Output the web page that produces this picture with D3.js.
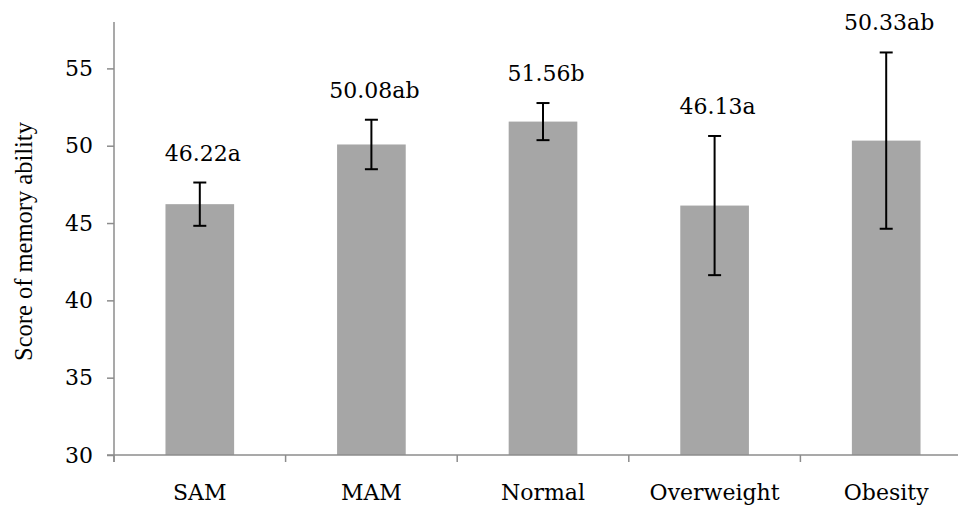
<!DOCTYPE html>
<html>
<head>
<meta charset="utf-8">
<script src="https://cdn.jsdelivr.net/npm/d3@7"></script>
<style>
    body { margin: 0; background: #ffffff; }
    svg { display: block; }
</style>
</head>
<body>
<div id="chart_div"></div>
<script>
var categories = ["SAM", "MAM", "Normal", "Overweight", "Obesity"];
var means = [46.22, 50.08, 51.56, 46.13, 50.33];
var errors = [1.4, 1.6, 1.2, 4.5, 5.7];
var letters = ["a", "ab", "b", "a", "ab"];
var y_ticks = [30, 35, 40, 45, 50, 55];

var chart_width = 958;
var chart_height = 506;

var plot_left = 114;
var plot_right = 972;
var plot_top = 22;
var plot_bottom = 455;

var bar_colour = "#a6a6a6";
var axis_colour = "#8c8c8c";
var serif_font = "'DejaVu Serif', serif";

var svg = d3.select("#chart_div")
    .append("svg")
    .attr("width", chart_width)
    .attr("height", chart_height);

var x = d3.scaleBand()
    .domain(categories)
    .range([plot_left, plot_right])
    .paddingInner(0.6)
    .paddingOuter(0.3);

var y = d3.scaleLinear()
    .domain([30, 58])
    .range([plot_bottom, plot_top]);

var step = x.step();

// bars
svg.append("g")
    .selectAll("rect")
    .data(categories)
    .enter()
    .append("rect")
    .attr("x", function(d) { return x(d); })
    .attr("y", function(d, i) { return y(means[i]); })
    .attr("width", x.bandwidth())
    .attr("height", function(d, i) { return y(30) - y(means[i]); })
    .style("fill", bar_colour);

// y axis
var y_axis = svg.append("g")
    .attr("transform", "translate(" + plot_left + ",0)")
    .call(d3.axisLeft(y).tickValues(y_ticks).tickSize(7).tickPadding(14));
y_axis.select(".domain").remove();
y_axis.selectAll(".tick line").attr("stroke", axis_colour).attr("stroke-width", 1.5);
y_axis.selectAll(".tick text")
    .style("font-family", serif_font)
    .style("font-size", "22px")
    .style("fill", "#000");

svg.append("line")
    .attr("x1", plot_left).attr("x2", plot_left)
    .attr("y1", plot_top).attr("y2", plot_bottom + 7)
    .attr("stroke", axis_colour).attr("stroke-width", 1.5);

// x axis
svg.append("line")
    .attr("x1", plot_left - 7).attr("x2", plot_right)
    .attr("y1", plot_bottom).attr("y2", plot_bottom)
    .attr("stroke", axis_colour).attr("stroke-width", 1.5);

var boundaries = d3.range(categories.length + 1).map(function(i) { return plot_left + i * step; });
svg.append("g")
    .selectAll("line")
    .data(boundaries)
    .enter()
    .append("line")
    .attr("x1", function(d) { return d; })
    .attr("x2", function(d) { return d; })
    .attr("y1", plot_bottom)
    .attr("y2", plot_bottom + 7)
    .attr("stroke", axis_colour)
    .attr("stroke-width", 1.5);

svg.append("g")
    .selectAll("text")
    .data(categories)
    .enter()
    .append("text")
    .attr("x", function(d) { return x(d) + x.bandwidth() / 2; })
    .attr("y", plot_bottom + 45)
    .attr("text-anchor", "middle")
    .style("font-family", serif_font)
    .style("font-size", "22px")
    .text(function(d) { return d; });

// error bars
var err = svg.append("g")
    .selectAll("g")
    .data(categories)
    .enter()
    .append("g")
    .attr("stroke", "#000")
    .attr("stroke-width", 2);

err.append("line")
    .attr("x1", function(d) { return x(d) + x.bandwidth() / 2; })
    .attr("x2", function(d) { return x(d) + x.bandwidth() / 2; })
    .attr("y1", function(d, i) { return y(means[i] + errors[i]); })
    .attr("y2", function(d, i) { return y(means[i] - errors[i]); });

[1, -1].forEach(function(sign) {
    err.append("line")
        .attr("x1", function(d) { return x(d) + x.bandwidth() / 2 - 6.5; })
        .attr("x2", function(d) { return x(d) + x.bandwidth() / 2 + 6.5; })
        .attr("y1", function(d, i) { return y(means[i] + sign * errors[i]); })
        .attr("y2", function(d, i) { return y(means[i] + sign * errors[i]); });
});

// value labels
svg.append("g")
    .selectAll("text")
    .data(categories)
    .enter()
    .append("text")
    .attr("x", function(d) { return x(d) + x.bandwidth() / 2 + 3; })
    .attr("y", function(d, i) { return y(means[i] + errors[i]) - 22; })
    .attr("text-anchor", "middle")
    .style("font-family", serif_font)
    .style("font-size", "22px")
    .text(function(d, i) { return means[i].toFixed(2) + letters[i]; });

// y axis title
svg.append("text")
    .attr("transform", "translate(32," + ((plot_top + plot_bottom) / 2 + 3) + ") rotate(-90)")
    .attr("text-anchor", "middle")
    .style("font-family", "'Liberation Serif', serif")
    .style("font-size", "24.5px")
    .text("Score of memory ability");
</script>
</body>
</html>
